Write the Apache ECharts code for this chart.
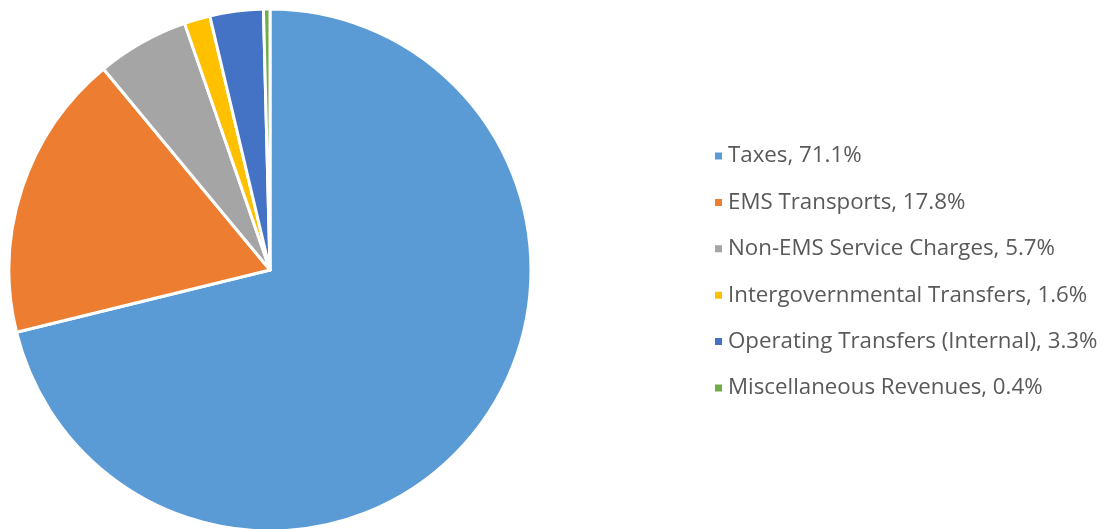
<!DOCTYPE html>
<html>
<head>
<meta charset="utf-8">
<script src="https://cdn.jsdelivr.net/npm/echarts@6/dist/echarts.min.js"></script>
<style>
  html, body { margin: 0; padding: 0; background: #fff; }
  #chart { width: 1108px; height: 529px; }
</style>
</head>
<body>
<div id="chart"></div>
<script>
// categories and shares (%)
let categories = ['Taxes', 'EMS Transports', 'Non-EMS Service Charges', 'Intergovernmental Transfers', 'Operating Transfers (Internal)', 'Miscellaneous Revenues']
let values = [71.1, 17.8, 5.7, 1.6, 3.3, 0.4]
let colors = ['#5B9BD5', '#ED7D31', '#A5A5A5', '#FFC000', '#4472C4', '#70AD47']

var chart = echarts.init(document.getElementById('chart'))
window.addEventListener('resize', function () {
    chart.resize()
})

let pieData = categories.map((name, i) => ({ name: name, value: values[i] }))

option = {
    animation: false,
    color: colors,
    legend: {
        orient: 'vertical',
        left: 708,
        top: 140,
        itemWidth: 9,
        itemHeight: 9,
        itemGap: 24.4,
        icon: 'rect',
        textStyle: {
            fontFamily: 'Open Sans',
            fontSize: 22.3,
            color: '#595959',
            lineHeight: 21
        },
        formatter: function (name) {
            let i = categories.indexOf(name)
            return name + ', ' + values[i] + '%'
        }
    },
    series: [{
        type: 'pie',
        center: [270, 270],
        radius: [0, 261],
        startAngle: 90,
        clockwise: true,
        label: { show: false },
        labelLine: { show: false },
        itemStyle: {
            borderColor: '#fff',
            borderWidth: 3
        },
        data: pieData
    }]
}

chart.setOption(option)
</script>
</body>
</html>
